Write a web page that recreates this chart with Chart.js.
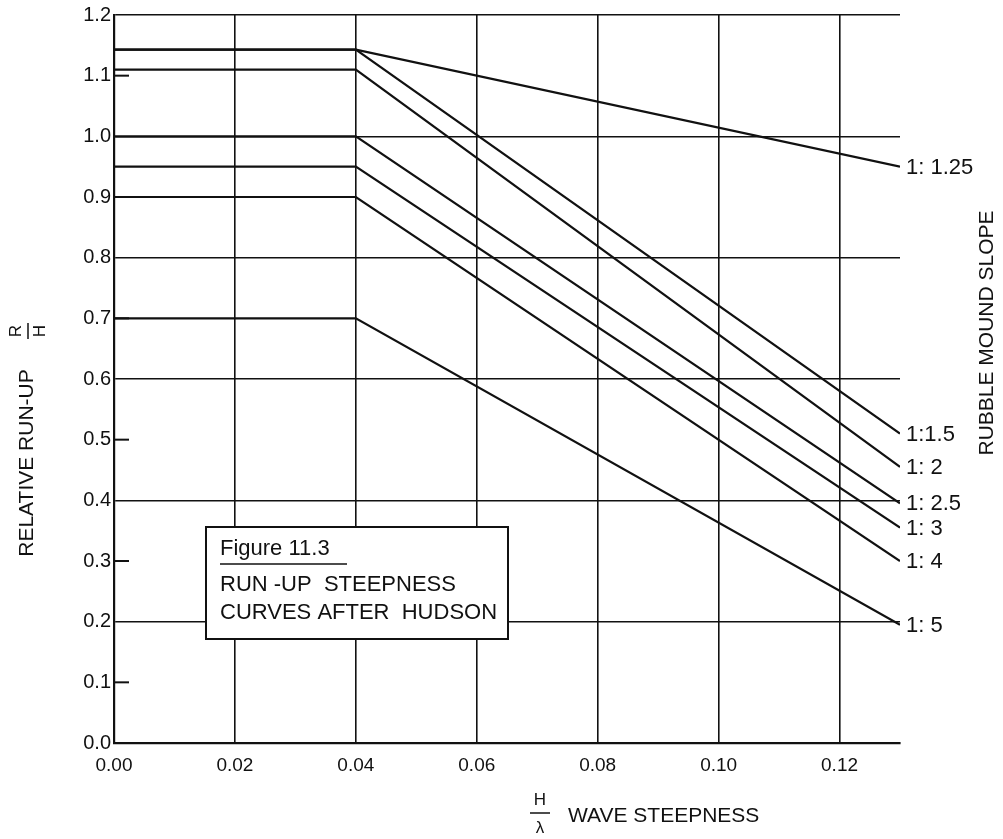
<!DOCTYPE html>
<html><head><meta charset="utf-8">
<script src="https://cdn.jsdelivr.net/npm/chart.js@4.4.1/dist/chart.umd.min.js"></script>
<style>html,body{margin:0;padding:0;background:#fff;} canvas{display:block;}</style>
</head><body>
<canvas id="c" width="1003" height="839"></canvas>
<script>
// ---- data ----
const steepness = [0.00, 0.04, 0.13];
const slopeLabels = ['1: 1.25', '1:1.5', '1: 2', '1: 2.5', '1: 3', '1: 4', '1: 5'];
const slope1_25 = [1.143, 1.143, 0.95];
const slope1_5  = [1.143, 1.143, 0.51];
const slope2    = [1.11, 1.11, 0.455];
const slope2_5  = [1.00, 1.00, 0.395];
const slope3    = [0.95, 0.95, 0.355];
const slope4    = [0.90, 0.90, 0.30];
const slope5    = [0.70, 0.70, 0.195];
const xTickValues = [0, 0.02, 0.04, 0.06, 0.08, 0.10, 0.12];
const xTickLabels = ['0.00', '0.02', '0.04', '0.06', '0.08', '0.10', '0.12'];
const yTickValues = [0, 0.1, 0.2, 0.3, 0.4, 0.5, 0.6, 0.7, 0.8, 0.9, 1.0, 1.1, 1.2];
const yTickLabels = ['0.0', '0.1', '0.2', '0.3', '0.4', '0.5', '0.6', '0.7', '0.8', '0.9', '1.0', '1.1', '1.2'];
const minorTickValues = [0.1, 0.3, 0.5, 0.7, 0.9, 1.1];

const FONT = '"Liberation Sans", Arial, sans-serif';
const INK = '#111';
const seriesValues = [slope1_25, slope1_5, slope2, slope2_5, slope3, slope4, slope5];

const datasets = seriesValues.map((vals, i) => ({
  label: slopeLabels[i],
  data: steepness.map((x, j) => ({x: x, y: vals[j]})),
  showLine: true,
  borderColor: INK,
  borderWidth: 2.2,
  pointRadius: 0,
  tension: 0,
  fill: false
}));

const decor = {
  id: 'decor',
  afterDatasetsDraw(chart) {
    const ctx = chart.ctx;
    const ys = chart.scales.y;
    const area = chart.chartArea;
    ctx.save();
    // minor inward ticks
    ctx.strokeStyle = INK; ctx.lineWidth = 2;
    minorTickValues.forEach(v => {
      const y = ys.getPixelForValue(v);
      ctx.beginPath(); ctx.moveTo(area.left, y); ctx.lineTo(area.left + 15, y); ctx.stroke();
    });
    // series end labels
    ctx.fillStyle = INK;
    ctx.font = '22px ' + FONT;
    ctx.textAlign = 'left'; ctx.textBaseline = 'middle';
    chart.data.datasets.forEach((ds, i) => {
      const pts = chart.getDatasetMeta(i).data;
      const p = pts[pts.length - 1];
      ctx.fillText(ds.label, p.x + 6, p.y + 1);
    });
    // right side title
    ctx.save();
    ctx.translate(987, 333);
    ctx.rotate(-Math.PI / 2);
    ctx.textAlign = 'center'; ctx.textBaseline = 'middle';
    ctx.font = '21px ' + FONT;
    ctx.fillText('RUBBLE MOUND SLOPE', 0, 0);
    ctx.restore();
    // left axis title
    ctx.save();
    ctx.translate(27, 463);
    ctx.rotate(-Math.PI / 2);
    ctx.textAlign = 'center'; ctx.textBaseline = 'middle';
    ctx.font = '21px ' + FONT;
    ctx.fillText('RELATIVE RUN-UP', 0, 0);
    // fraction R/H
    ctx.font = '17px ' + FONT;
    ctx.fillText('R', 132, -11);
    ctx.fillText('H', 132, 13);
    ctx.lineWidth = 1.5;
    ctx.beginPath(); ctx.moveTo(124, 1); ctx.lineTo(140, 1); ctx.stroke();
    ctx.restore();
    // bottom axis title
    ctx.textAlign = 'center'; ctx.textBaseline = 'middle';
    ctx.font = '17px ' + FONT;
    ctx.fillText('H', 540, 800);
    ctx.fillText('\u03BB', 540, 828);
    ctx.lineWidth = 1.5;
    ctx.beginPath(); ctx.moveTo(530, 813); ctx.lineTo(550, 813); ctx.stroke();
    ctx.textAlign = 'left';
    ctx.font = '21px ' + FONT;
    ctx.fillText('WAVE STEEPNESS', 568, 816);
    // caption box
    const bx = 206, by = 527, bw = 302, bh = 112;
    ctx.fillStyle = '#fff';
    ctx.fillRect(bx, by, bw, bh);
    ctx.strokeStyle = INK; ctx.lineWidth = 2;
    ctx.strokeRect(bx, by, bw, bh);
    ctx.fillStyle = INK;
    ctx.font = '22px ' + FONT;
    ctx.textAlign = 'left'; ctx.textBaseline = 'middle';
    ctx.fillText('Figure 11.3', 220, 549);
    ctx.lineWidth = 1.5;
    ctx.beginPath(); ctx.moveTo(220, 564); ctx.lineTo(347, 564); ctx.stroke();
    ctx.fillText('RUN -UP  STEEPNESS', 220, 585);
    ctx.fillText('CURVES AFTER  HUDSON', 220, 613);
    ctx.restore();
  }
};

new Chart(document.getElementById('c'), {
  type: 'scatter',
  data: { datasets: datasets },
  options: {
    responsive: false,
    animation: false,
    events: [],
    layout: { padding: { top: 15, right: 103, left: 0, bottom: 0 } },
    plugins: { legend: { display: false }, tooltip: { enabled: false }, title: { display: false } },
    scales: {
      x: {
        type: 'linear', min: 0, max: 0.13,
        afterBuildTicks: s => { s.ticks = xTickValues.map(v => ({value: v})); },
        afterFit: s => { s.height = 96; },
        ticks: {
          callback: (v, i) => xTickLabels[i],
          font: { size: 19, family: FONT }, color: INK, padding: 11,
          maxRotation: 0, autoSkip: false
        },
        grid: {
          color: c => (c.tick && c.tick.value > 0) ? INK : 'rgba(0,0,0,0)',
          lineWidth: 1.6, drawTicks: false
        },
        border: { display: true, color: INK, width: 2.2 }
      },
      y: {
        type: 'linear', min: 0, max: 1.2,
        afterBuildTicks: s => { s.ticks = yTickValues.map(v => ({value: v})); },
        afterFit: s => { s.width = 114; },
        ticks: {
          callback: (v, i) => yTickLabels[i],
          font: { size: 20, family: FONT }, color: INK, padding: 3, autoSkip: false
        },
        grid: {
          color: c => (c.tick && c.tick.value > 0.01 && Math.round(c.tick.value * 10) % 2 === 0) ? INK : 'rgba(0,0,0,0)',
          lineWidth: 1.6, drawTicks: false
        },
        border: { display: true, color: INK, width: 2.2 }
      }
    }
  },
  plugins: [decor]
});
</script>
</body></html>
